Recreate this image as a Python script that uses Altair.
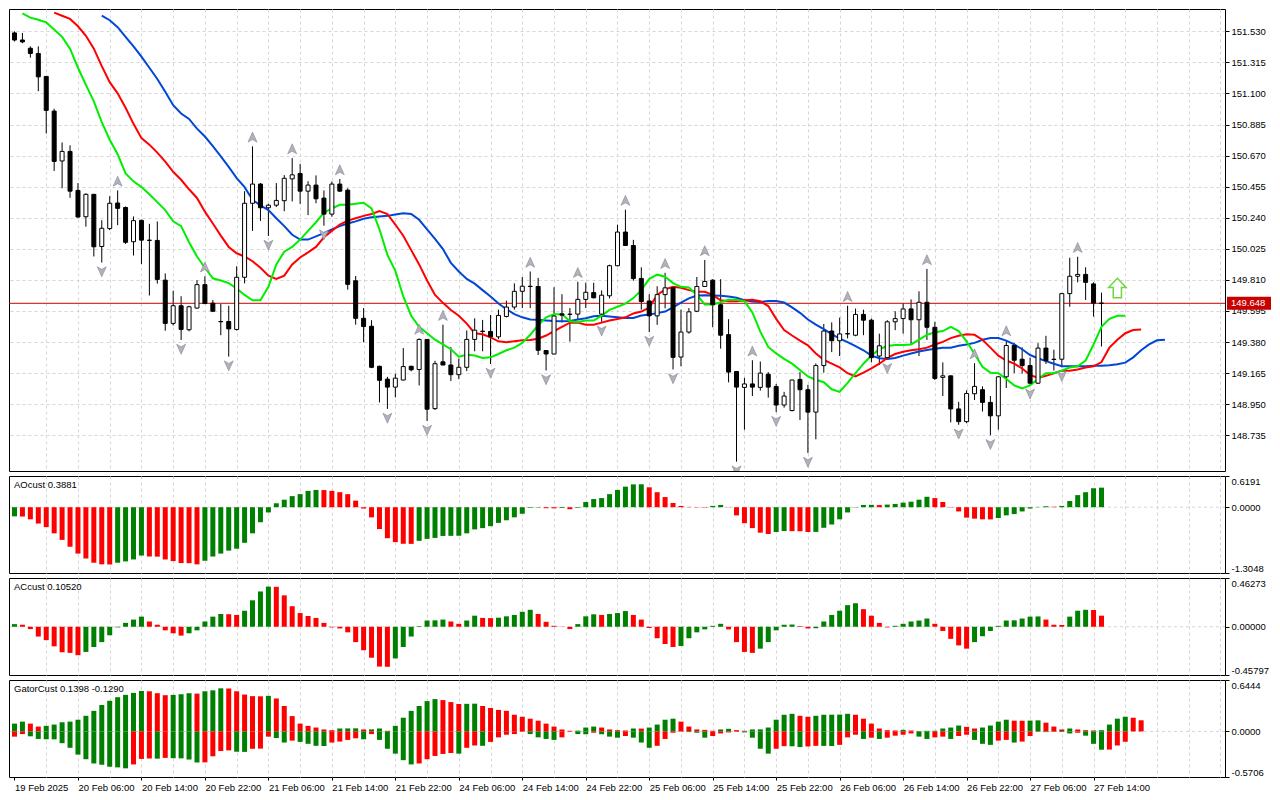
import altair as alt
import pandas as pd

# ---------------- data ----------------
opens = [151.519, 151.470, 151.413, 151.377, 151.218, 150.978, 150.633, 150.699, 150.429, 150.247,
         150.402, 150.041, 150.165, 150.342, 150.311, 150.074, 150.222, 150.085, 150.083, 149.808,
         149.509, 149.631, 149.465, 149.615, 149.777, 149.649, 149.522, 149.522, 149.467, 149.828,
         150.340, 150.473, 150.309, 150.327, 150.358, 150.509, 150.546, 150.424, 150.466, 150.376,
         150.265, 150.473, 150.431, 149.804, 149.544, 149.489, 149.212, 149.123, 149.068, 149.117,
         149.212, 149.190, 149.398, 148.919, 149.243, 149.221, 149.154, 149.205, 149.398, 149.455,
         149.453, 149.416, 149.557, 149.622, 149.731, 149.766, 149.764, 149.321, 149.297, 149.575,
         149.571, 149.573, 149.675, 149.722, 149.573, 149.700, 149.908, 150.141, 150.048, 149.820,
         149.664, 149.561, 149.708, 149.757, 149.276, 149.449, 149.593, 149.764, 149.808, 149.638,
         149.431, 149.176, 149.066, 149.090, 149.066, 149.157, 149.072, 148.944, 148.906, 149.121,
         149.050, 148.895, 149.217, 149.456, 149.389, 149.436, 149.427, 149.571, 149.531, 149.283,
         149.272, 149.520, 149.542, 149.609, 149.534, 149.655, 149.482, 149.135, 149.146, 148.917,
         148.829, 149.022, 149.050, 148.962, 148.869, 149.139, 149.356, 149.261, 149.217, 149.095,
         149.338, 149.261, 149.261, 149.715, 149.835, 149.848, 149.782, 149.649]
highs = [151.530, 151.519, 151.426, 151.426, 151.220, 150.994, 150.761, 150.741, 150.480, 150.409,
         150.405, 150.223, 150.389, 150.429, 150.318, 150.249, 150.227, 150.198, 150.214, 149.855,
         149.735, 149.697, 149.631, 149.808, 149.835, 149.671, 149.644, 149.631, 149.904, 150.424,
         150.734, 150.480, 150.336, 150.480, 150.535, 150.653, 150.613, 150.493, 150.533, 150.429,
         150.491, 150.508, 150.444, 149.837, 149.615, 149.531, 149.216, 149.139, 149.161, 149.338,
         149.216, 149.405, 149.400, 149.250, 149.500, 149.345, 149.265, 149.460, 149.544, 149.533,
         149.567, 149.604, 149.666, 149.786, 149.830, 149.868, 149.824, 149.323, 149.759, 149.711,
         149.615, 149.797, 149.790, 149.790, 149.737, 149.915, 150.192, 150.296, 150.087, 149.897,
         149.711, 149.766, 149.859, 149.764, 149.604, 149.615, 149.830, 149.948, 149.815, 149.815,
         149.538, 149.176, 149.132, 149.254, 149.245, 149.172, 149.090, 149.035, 149.119, 149.172,
         149.084, 149.232, 149.505, 149.516, 149.549, 149.631, 149.611, 149.604, 149.542, 149.438,
         149.531, 149.593, 149.649, 149.675, 149.731, 149.886, 149.520, 149.239, 149.148, 148.966,
         149.046, 149.234, 149.073, 149.006, 149.144, 149.394, 149.372, 149.343, 149.272, 149.372,
         149.423, 149.327, 149.720, 149.963, 149.970, 149.897, 149.793, 149.722]
lows = [151.460, 151.448, 151.348, 151.116, 150.823, 150.564, 150.444, 150.378, 150.240, 150.178,
        149.972, 149.930, 150.154, 150.189, 150.059, 149.979, 149.919, 149.702, 149.784, 149.458,
        149.494, 149.394, 149.454, 149.611, 149.644, 149.587, 149.427, 149.279, 149.460, 149.786,
        150.149, 150.218, 150.114, 150.314, 150.285, 150.353, 150.336, 150.258, 150.340, 150.185,
        150.247, 150.420, 149.742, 149.500, 149.378, 149.199, 148.962, 148.917, 148.997, 149.115,
        149.177, 149.079, 148.833, 148.910, 149.219, 149.110, 149.123, 149.179, 149.316, 149.316,
        149.228, 149.400, 149.550, 149.604, 149.615, 149.615, 149.290, 149.183, 149.295, 149.516,
        149.383, 149.537, 149.615, 149.682, 149.520, 149.682, 149.904, 150.046, 149.804, 149.604,
        149.449, 149.499, 149.613, 149.190, 149.212, 149.438, 149.587, 149.762, 149.482, 149.334,
        149.101, 148.552, 148.773, 149.006, 149.044, 148.995, 148.895, 148.926, 148.899, 148.840,
        148.612, 148.707, 149.168, 149.310, 149.283, 149.405, 149.420, 149.427, 149.239, 149.221,
        149.261, 149.462, 149.438, 149.361, 149.283, 149.394, 149.117, 149.006, 148.824, 148.807,
        148.818, 148.979, 148.899, 148.735, 148.773, 149.062, 149.165, 149.161, 149.084, 149.090,
        149.228, 149.183, 149.205, 149.624, 149.793, 149.671, 149.556, 149.349]
closes = [151.470, 151.457, 151.377, 151.215, 150.983, 150.630, 150.699, 150.424, 150.245, 150.402,
          150.039, 150.167, 150.340, 150.305, 150.070, 150.220, 150.085, 150.083, 149.813, 149.509,
          149.631, 149.467, 149.624, 149.777, 149.646, 149.593, 149.520, 149.471, 149.828, 150.340,
          150.473, 150.309, 150.327, 150.360, 150.513, 150.537, 150.424, 150.466, 150.371, 150.265,
          150.473, 150.424, 149.779, 149.544, 149.487, 149.205, 149.115, 149.068, 149.130, 149.210,
          149.188, 149.398, 148.915, 149.230, 149.221, 149.154, 149.205, 149.398, 149.462, 149.453,
          149.416, 149.564, 149.622, 149.731, 149.766, 149.764, 149.323, 149.297, 149.560, 149.566,
          149.573, 149.675, 149.724, 149.686, 149.704, 149.908, 150.141, 150.048, 149.819, 149.660,
          149.561, 149.708, 149.755, 149.274, 149.449, 149.589, 149.764, 149.799, 149.638, 149.427,
          149.172, 149.068, 149.090, 149.068, 149.165, 149.068, 148.944, 149.006, 149.117, 149.050,
          148.895, 149.217, 149.456, 149.389, 149.436, 149.438, 149.571, 149.531, 149.272, 149.354,
          149.520, 149.542, 149.609, 149.534, 149.655, 149.482, 149.128, 149.146, 148.917, 148.829,
          149.024, 149.073, 148.962, 148.869, 149.139, 149.356, 149.254, 149.217, 149.095, 149.338,
          149.250, 149.259, 149.715, 149.835, 149.848, 149.793, 149.649, 149.648]

# Alligator lines (first bar index of each list)
lips_start = 1
lips = [151.654, 151.625, 151.610, 151.592, 151.543, 151.492, 151.410, 151.278, 151.160, 151.045,
        150.901, 150.780, 150.680, 150.547, 150.492, 150.452, 150.403, 150.348, 150.293, 150.215,
        150.182, 150.071, 149.972, 149.894, 149.821, 149.806, 149.788, 149.750, 149.706, 149.669,
        149.669, 149.762, 149.917, 150.005, 150.038, 150.089, 150.149, 150.209, 150.275,
        150.304, 150.330, 150.330, 150.337, 150.344, 150.304, 150.160, 149.983, 149.872, 149.695,
        149.562, 149.485, 149.441, 149.396, 149.363, 149.330, 149.279, 149.292, 149.286, 149.270,
        149.274, 149.297, 149.323, 149.341, 149.374, 149.430, 149.496, 149.551, 149.573, 149.573,
        149.523, 149.518, 149.529, 149.529, 149.562, 149.602, 149.624, 149.646, 149.684, 149.739,
        149.817, 149.846, 149.832, 149.788, 149.762, 149.757, 149.706, 149.640, 149.640, 149.655,
        149.673, 149.673, 149.662, 149.585, 149.452, 149.346, 149.301, 149.263, 149.230, 149.186,
        149.142, 149.119, 149.102, 149.053, 149.035, 149.097, 149.164, 149.230, 149.286, 149.330,
        149.352, 149.359, 149.359, 149.363, 149.396, 149.430, 149.447, 149.456, 149.485, 149.456,
        149.385, 149.297, 149.208, 149.168, 149.164, 149.124, 149.080, 149.058, 149.080, 149.124,
        149.164, 149.164, 149.182, 149.204, 149.212, 149.252, 149.363, 149.485, 149.540, 149.562,
        149.562]
teeth_start = 5
teeth = [151.660, 151.638, 151.616, 151.565, 151.499, 151.410, 151.289, 151.178, 151.101, 151.001,
         150.890, 150.791, 150.746, 150.691, 150.629, 150.558, 150.503, 150.437, 150.377, 150.282,
         150.200, 150.116, 150.038, 149.994, 149.972, 149.939, 149.894, 149.839, 149.817, 149.839,
         149.917, 149.965, 150.000, 150.038, 150.105, 150.149, 150.193, 150.220, 150.237, 150.253,
         150.266, 150.286, 150.266, 150.193, 150.116, 150.016, 149.917, 149.806, 149.706, 149.651,
         149.602, 149.562, 149.507, 149.441, 149.434, 149.412, 149.385, 149.379, 149.385, 149.392,
         149.394, 149.403, 149.425, 149.456, 149.485, 149.514, 149.514, 149.500, 149.500, 149.514,
         149.529, 149.540, 149.551, 149.578, 149.591, 149.618, 149.706, 149.744, 149.762, 149.755,
         149.739, 149.728, 149.728, 149.706, 149.669, 149.662, 149.662, 149.669, 149.673, 149.662,
         149.629, 149.540, 149.463, 149.425, 149.390, 149.357, 149.301, 149.257, 149.230, 149.204,
         149.164, 149.142, 149.168, 149.197, 149.230, 149.270, 149.297, 149.312, 149.323, 149.330,
         149.341, 149.363, 149.381, 149.407, 149.423, 149.434, 149.430, 149.396, 149.341, 149.286,
         149.252, 149.230, 149.197, 149.153, 149.131, 149.146, 149.164, 149.182, 149.182, 149.190,
         149.204, 149.212, 149.241, 149.341, 149.396, 149.441, 149.463, 149.467]
jaw_start = 11
jaw = [151.638, 151.607, 151.559, 151.492, 151.426, 151.355, 151.278, 151.200, 151.112, 151.019,
       150.961, 150.924, 150.857, 150.802, 150.735, 150.665, 150.592, 150.514, 150.452, 150.364,
       150.326, 150.293, 150.237, 150.182, 150.122, 150.089, 150.089, 150.111, 150.133, 150.160,
       150.182, 150.200, 150.215, 150.233, 150.244, 150.248, 150.253, 150.262, 150.271, 150.266,
       150.226, 150.160, 150.094, 150.023, 149.928, 149.868, 149.817, 149.784, 149.739, 149.695,
       149.646, 149.607, 149.573, 149.551, 149.536, 149.534, 149.529, 149.525, 149.523, 149.525,
       149.536, 149.544, 149.558, 149.562, 149.556, 149.551, 149.547, 149.547, 149.564, 149.571,
       149.580, 149.591, 149.620, 149.653, 149.682, 149.702, 149.704, 149.702, 149.700, 149.695,
       149.686, 149.669, 149.660, 149.657, 149.664, 149.664, 149.653, 149.620, 149.582, 149.536,
       149.500, 149.469, 149.434, 149.403, 149.379, 149.352, 149.323, 149.286, 149.268, 149.263,
       149.270, 149.286, 149.301, 149.314, 149.325, 149.334, 149.341, 149.341, 149.354, 149.363,
       149.374, 149.396, 149.407, 149.407, 149.390, 149.363, 149.330, 149.290, 149.268, 149.248,
       149.230, 149.212, 149.212, 149.212, 149.212, 149.215, 149.215, 149.219, 149.226, 149.237,
       149.274, 149.323, 149.363, 149.392, 149.396]

fractal_up = [13, 24, 30, 35, 41, 51, 54, 65, 71, 77, 82, 87, 93, 105, 115, 121, 125, 134]
fractal_down = [11, 21, 27, 32, 39, 47, 52, 60, 67, 74, 80, 83, 91, 96, 100, 110, 119, 123, 128, 132]

ao = [-0.181, -0.185, -0.240, -0.324, -0.395, -0.518, -0.648, -0.784, -0.920, -1.017,
      -1.101, -1.133, -1.136, -1.101, -1.075, -1.036, -0.959, -0.978, -0.980, -1.036,
      -1.069, -1.108, -1.110, -1.133, -1.062, -0.978, -0.920, -0.861, -0.823, -0.706,
      -0.518, -0.298, -0.104, 0.078, 0.149, 0.220, 0.259, 0.324, 0.343, 0.340,
      0.324, 0.298, 0.259, 0.130, -0.026, -0.201, -0.434, -0.615, -0.693, -0.725,
      -0.727, -0.667, -0.628, -0.609, -0.570, -0.568, -0.566, -0.518, -0.440, -0.415,
      -0.376, -0.311, -0.259, -0.201, -0.130, -0.012, -0.008, -0.020, -0.022, -0.015,
      -0.040, -0.012, 0.104, 0.162, 0.181, 0.259, 0.343, 0.408, 0.453, 0.455,
      0.395, 0.298, 0.201, 0.084, 0.026, 0.006, -0.006, -0.008, 0.026, 0.045,
      -0.004, -0.162, -0.317, -0.415, -0.505, -0.531, -0.492, -0.473, -0.475, -0.477,
      -0.492, -0.490, -0.408, -0.343, -0.240, -0.104, -0.006, 0.045, 0.047, 0.043,
      0.052, 0.065, 0.091, 0.110, 0.149, 0.207, 0.181, 0.104, -0.006, -0.084,
      -0.207, -0.227, -0.240, -0.242, -0.214, -0.162, -0.136, -0.084, -0.026, 0.006,
      0.019, 0.010, 0.026, 0.123, 0.240, 0.298, 0.376, 0.3881]
ac = [0.025, 0.019, -0.022, -0.093, -0.127, -0.186, -0.242, -0.248, -0.270, -0.239,
      -0.192, -0.146, -0.081, -0.006, 0.037, 0.068, 0.096, 0.050, 0.019, -0.034,
      -0.062, -0.084, -0.062, -0.034, 0.050, 0.096, 0.121, 0.119, 0.112, 0.152,
      0.251, 0.335, 0.381, 0.379, 0.298, 0.195, 0.130, 0.102, 0.084, 0.037,
      -0.006, -0.016, -0.053, -0.146, -0.223, -0.294, -0.378, -0.380, -0.301, -0.192,
      -0.093, 0.006, 0.059, 0.061, 0.068, 0.050, 0.028, 0.059, 0.105, 0.084,
      0.082, 0.086, 0.099, 0.112, 0.143, 0.161, 0.121, 0.047, 0.009, -0.002,
      -0.022, 0.025, 0.099, 0.118, 0.112, 0.121, 0.130, 0.149, 0.112, 0.068,
      -0.012, -0.109, -0.164, -0.192, -0.183, -0.109, -0.053, -0.025, 0.009, 0.028,
      -0.025, -0.146, -0.239, -0.248, -0.208, -0.146, -0.034, 0.019, 0.021, 0.006,
      -0.016, -0.014, 0.050, 0.112, 0.152, 0.205, 0.223, 0.167, 0.105, 0.037,
      -0.006, 0.009, 0.028, 0.050, 0.059, 0.078, 0.028, -0.040, -0.115, -0.177,
      -0.208, -0.146, -0.090, -0.040, 0.009, 0.059, 0.061, 0.078, 0.096, 0.098,
      0.068, 0.019, 0.017, 0.096, 0.152, 0.161, 0.159, 0.1052]
gator_up = [0.098, 0.123, 0.098, 0.061, 0.070, 0.086, 0.115, 0.123, 0.147, 0.196,
            0.258, 0.331, 0.384, 0.429, 0.458, 0.483, 0.507, 0.503, 0.479, 0.454,
            0.458, 0.466, 0.479, 0.474, 0.503, 0.515, 0.540, 0.538, 0.503, 0.462,
            0.442, 0.440, 0.446, 0.413, 0.319, 0.192, 0.098, 0.070, 0.049, 0.025,
            0.016, 0.037, 0.038, 0.039, 0.025, 0.026, 0.037, 0.008, 0.070, 0.172,
            0.258, 0.319, 0.380, 0.405, 0.393, 0.368, 0.344, 0.346, 0.348, 0.319,
            0.294, 0.270, 0.258, 0.209, 0.184, 0.160, 0.135, 0.098, 0.061, 0.025,
            0.008, 0.010, 0.049, 0.061, 0.049, 0.025, 0.016, 0.012, 0.037, 0.036,
            0.049, 0.086, 0.147, 0.160, 0.123, 0.061, 0.025, 0.020, 0.008, 0.025,
            0.033, 0.016, 0.008, 0.025, 0.026, 0.049, 0.147, 0.209, 0.221, 0.196,
            0.184, 0.196, 0.209, 0.210, 0.211, 0.221, 0.209, 0.160, 0.098, 0.037,
            0.016, 0.012, 0.020, 0.012, 0.004, 0.008, 0.009, 0.037, 0.049, 0.074,
            0.057, 0.037, 0.049, 0.074, 0.123, 0.147, 0.135, 0.134, 0.136, 0.139,
            0.110, 0.061, 0.025, 0.037, 0.025, 0.016, 0.012, 0.016, 0.086, 0.160,
            0.184, 0.172, 0.1398]
gator_dn = [-0.065, -0.033, -0.061, -0.094, -0.098, -0.099, -0.147, -0.205, -0.290, -0.348,
            -0.401, -0.417, -0.442, -0.450, -0.462, -0.413, -0.344, -0.339, -0.341, -0.331,
            -0.335, -0.337, -0.352, -0.389, -0.387, -0.311, -0.245, -0.237, -0.254, -0.256,
            -0.217, -0.215, -0.065, -0.082, -0.139, -0.115, -0.131, -0.155, -0.180, -0.182,
            -0.139, -0.127, -0.106, -0.086, -0.098, -0.033, -0.106, -0.217, -0.278, -0.360,
            -0.413, -0.401, -0.348, -0.307, -0.282, -0.270, -0.278, -0.205, -0.176, -0.180,
            -0.131, -0.074, -0.041, -0.033, -0.004, -0.033, -0.074, -0.094, -0.106, -0.074,
            -0.004, -0.033, -0.035, -0.016, -0.035, -0.065, -0.078, -0.057, -0.078, -0.139,
            -0.205, -0.180, -0.094, -0.016, -0.002, -0.008, -0.016, -0.078, -0.057, -0.025,
            -0.012, -0.004, -0.012, -0.078, -0.217, -0.278, -0.217, -0.184, -0.186, -0.196,
            -0.188, -0.180, -0.181, -0.182, -0.168, -0.074, -0.041, -0.094, -0.078, -0.094,
            -0.078, -0.053, -0.041, -0.025, -0.065, -0.094, -0.074, -0.065, -0.094, -0.057,
            -0.041, -0.106, -0.155, -0.168, -0.115, -0.106, -0.139, -0.127, -0.057, -0.004,
            -0.008, -0.005, -0.007, -0.025, -0.016, -0.053, -0.155, -0.229, -0.227, -0.176,
            -0.1290]

time_labels = ["19 Feb 2025", "20 Feb 06:00", "20 Feb 14:00", "20 Feb 22:00", "21 Feb 06:00",
               "21 Feb 14:00", "21 Feb 22:00", "24 Feb 06:00", "24 Feb 14:00", "24 Feb 22:00",
               "25 Feb 06:00", "25 Feb 14:00", "25 Feb 22:00", "26 Feb 06:00", "26 Feb 14:00",
               "26 Feb 22:00", "27 Feb 06:00", "27 Feb 14:00"]
bars_per_label = 8
bars_per_grid = 4
price_ticks = [148.735, 148.950, 149.165, 149.380, 149.595, 149.810, 150.025, 150.240,
               150.455, 150.670, 150.885, 151.100, 151.315, 151.530]
price_range = [148.522, 151.650]
current_price = 149.648
signal_bar = 139
signal_price = 149.754
ao_ticks = [-1.3048, 0.0, 0.6191]
ac_ticks = [-0.45797, 0.0, 0.46273]
gator_ticks = [-0.5706, 0.0, 0.6444]
ao_title = "AOcust 0.3881"
ac_title = "ACcust 0.10520"
gator_title = "GatorCust 0.1398 -0.1290"

# ---------------- styling ----------------
FONT = "Liberation Sans"
FS = 9.5
GRID = "#d6d6d6"
GREEN = "#008000"
RED = "#ff0000"
W = 1216
H_MAIN = 462
H_IND = 97
XDOM = [-0.0625, 151.9375]
n_bars = len(closes)
grid_vals = list(range(0, 153, bars_per_grid))
GRID_OP = {"condition": {"test": "datum.value === 0", "value": 0}, "value": 1}


def updown(vals, first, use_abs=False):
    out = [first]
    for a, b in zip(vals[:-1], vals[1:]):
        if use_abs:
            a, b = abs(a), abs(b)
        out.append("up" if b > a else "down")
    return out


xscale = alt.Scale(domain=XDOM, nice=False, zero=False)
x_axis_plain = alt.Axis(values=grid_vals, labels=False, ticks=False, domain=False, grid=True,
                        gridDash=[3, 3], gridColor=GRID, gridOpacity=GRID_OP, title=None)
X = alt.X("i:Q", scale=xscale, axis=x_axis_plain)

main_axis = alt.Axis(orient="right", values=price_ticks, format=".3f", grid=True, gridDash=[3, 3],
                     gridColor=GRID, tickSize=4, domain=False, title=None, labelOverlap=False)
yscale = alt.Scale(domain=price_range, nice=False, zero=False)


def ym(field):
    return alt.Y(field, scale=yscale, axis=main_axis)


df_c = pd.DataFrame({"i": list(range(n_bars)), "o": opens, "h": highs, "l": lows, "c": closes})
df_c["d"] = ["bull" if c > o else "bear" for o, c in zip(opens, closes)]

wicks = alt.Chart(df_c).mark_rule(color="black", strokeWidth=1).encode(x=X, y=ym("l:Q"), y2="h:Q")
bodies = alt.Chart(df_c).mark_bar(size=4, stroke="black", strokeWidth=1).encode(
    x=X, y=ym("o:Q"), y2="c:Q",
    fill=alt.Color("d:N", scale=alt.Scale(domain=["bull", "bear"], range=["white", "black"]), legend=None))


def line_layer(vals, start, color):
    df = pd.DataFrame({"i": list(range(start, start + len(vals))), "v": vals})
    return alt.Chart(df).mark_line(color=color, strokeWidth=2, clip=True).encode(x=X, y=ym("v:Q"))


jaw_l = line_layer(jaw, jaw_start, "#0047d6")
teeth_l = line_layer(teeth, teeth_start, "#ff0000")
lips_l = line_layer(lips, lips_start, "#00ee00")

df_p = pd.DataFrame({"p": [current_price], "t": [f"{current_price:.3f}"]})
price_rule = alt.Chart(df_p).mark_rule(color="#c80000", strokeWidth=1).encode(y=ym("p:Q"))

UP_PATH = "M0,-1L0.85,0.9L0,0.42L-0.85,0.9Z"
DN_PATH = "M0,1L0.85,-0.9L0,-0.42L-0.85,-0.9Z"
df_fu = pd.DataFrame({"i": fractal_up, "v": [highs[k] for k in fractal_up]})
df_fd = pd.DataFrame({"i": fractal_down, "v": [lows[k] for k in fractal_down]})
f_up = alt.Chart(df_fu).mark_point(shape=UP_PATH, size=110, filled=True, fill="#b0b2bc",
                                   stroke="#84868f", strokeWidth=0.6, yOffset=-9, clip=True,
                                   opacity=1).encode(x=X, y=ym("v:Q"))
f_dn = alt.Chart(df_fd).mark_point(shape=DN_PATH, size=110, filled=True, fill="#b0b2bc",
                                   stroke="#84868f", strokeWidth=0.6, yOffset=9, clip=True,
                                   opacity=1).encode(x=X, y=ym("v:Q"))

ARROW = "M0,-1L0.9,-0.05L0.42,-0.05L0.42,1L-0.42,1L-0.42,-0.05L-0.9,-0.05Z"
df_s = pd.DataFrame({"i": [signal_bar], "v": [signal_price]})
sig = alt.Chart(df_s).mark_point(shape=ARROW, size=380, filled=True, fill="white",
                                 stroke="#6cd83c", strokeWidth=1.5, opacity=1).encode(x=X, y=ym("v:Q"))

price_box = alt.Chart(df_p).mark_bar(orient="horizontal", size=13, color="#c80000").encode(
    x=alt.value(W + 2), x2=alt.value(W + 46), y=ym("p:Q"))
price_txt = alt.Chart(df_p).mark_text(align="left", baseline="middle", color="white", font=FONT,
                                      fontSize=FS).encode(x=alt.value(W + 6), y=ym("p:Q"), text="t:N")

main = alt.layer(wicks, price_rule, jaw_l, teeth_l, lips_l, bodies, f_up, f_dn, sig,
                 price_box, price_txt).properties(width=W, height=H_MAIN)


def neg_fmt(dec):
    return (f"datum.value < 0 ? '-' + format(-datum.value, '.{dec}f') : "
            f"format(datum.value, '.{dec}f')")


def ind_axis(ticks, dec):
    return alt.Axis(orient="right", values=ticks, labelExpr=neg_fmt(dec), labelFlush=True,
                    grid=False, tickSize=4, domain=False, title=None, labelOverlap=False)


def title_layer(t):
    return alt.Chart(pd.DataFrame({"t": [t]})).mark_text(
        align="left", baseline="middle", font=FONT, fontSize=FS, color="black").encode(
        x=alt.value(5), y=alt.value(9), text="t:N")


COLOR = alt.Color("d:N", scale=alt.Scale(domain=["up", "down"], range=[GREEN, RED]), legend=None)


def yind(ticks, dec, field="v:Q"):
    return alt.Y(field, scale=alt.Scale(domain=[ticks[0], ticks[-1]], nice=False, zero=False),
                 axis=ind_axis(ticks, dec))


def zero_layer(ticks, dec, xenc):
    return alt.Chart(pd.DataFrame({"i": [0], "v": [0.0]})).mark_rule(
        color=GRID, strokeDash=[3, 3], strokeWidth=1).encode(x=xenc, y=yind(ticks, dec))


def hist_layer(vals, dirs, ticks, dec, xenc):
    df = pd.DataFrame({"i": list(range(len(vals))), "v": vals, "d": dirs})
    return alt.Chart(df).mark_bar(size=5).encode(
        x=xenc, y=yind(ticks, dec), y2=alt.datum(0), color=COLOR)


def zero_rule(ticks, dec):
    return alt.Chart(pd.DataFrame({"v": [0.0]})).mark_rule(
        color=GRID, strokeDash=[3, 3], strokeWidth=1).encode(y=yind(ticks, dec))


ao_chart = alt.layer(zero_rule(ao_ticks, 4), hist_layer(ao, updown(ao, "up"), ao_ticks, 4, X),
                     title_layer(ao_title)).properties(width=W, height=H_IND)
ac_chart = alt.layer(zero_rule(ac_ticks, 5), hist_layer(ac, updown(ac, "up"), ac_ticks, 5, X),
                     title_layer(ac_title)).properties(width=W, height=H_IND)

labels_js = "[" + ",".join("'" + s + "'" for s in time_labels) + "]"
last_lab = bars_per_label * (len(time_labels) - 1)
lab_test = f"datum.value % {bars_per_label} === 0 && datum.value <= {last_lab}"
x_axis_bottom = alt.Axis(values=grid_vals, grid=True, gridDash=[3, 3], gridColor=GRID,
                         gridOpacity=GRID_OP,
                         labelExpr=f"({lab_test}) ? {labels_js}[datum.value / {bars_per_label}] : ''",
                         tickSize=3, tickColor="black",
                         tickOpacity={"condition": {"test": lab_test, "value": 1}, "value": 0},
                         labelAlign="left", labelBaseline="top", labelPadding=2,
                         labelOverlap=False, labelFlush=False, labelBound=False,
                         domain=False, title=None)
XB = alt.X("i:Q", scale=xscale, axis=x_axis_bottom)

g_up = hist_layer(gator_up, updown(gator_up, "up", True), gator_ticks, 4, XB)
g_dn = hist_layer(gator_dn, updown(gator_dn, "down", True), gator_ticks, 4, XB)
gator_chart = alt.layer(zero_rule(gator_ticks, 4), g_up, g_dn,
                        title_layer(gator_title)).properties(width=W, height=H_IND)

chart = alt.vconcat(main, ao_chart, ac_chart, gator_chart, spacing=3).properties(
    padding=0, background="white"
).configure_view(stroke="black", strokeWidth=1).configure_axis(
    labelFont=FONT, labelFontSize=FS, labelColor="black", tickColor="black"
).configure_text(font=FONT)

chart.save("out.html", embed_options={"renderer": "svg", "actions": False})
